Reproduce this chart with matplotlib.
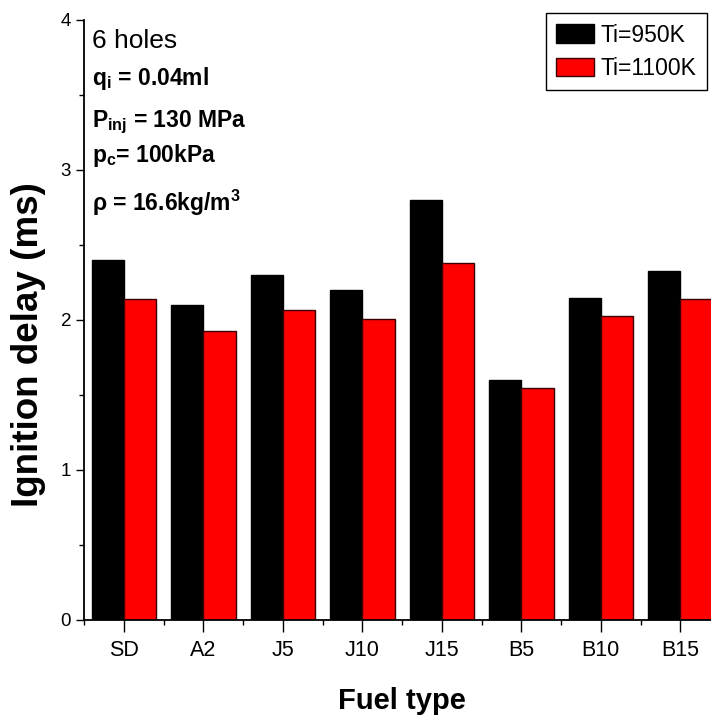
import matplotlib
matplotlib.use("Agg")
import matplotlib.pyplot as plt
import numpy as np

plt.rcParams['font.family'] = ['Liberation Sans', 'DejaVu Sans']
plt.rcParams['mathtext.fontset'] = 'custom'
plt.rcParams['mathtext.rm'] = 'Liberation Sans'
plt.rcParams['mathtext.bf'] = 'Liberation Sans:bold'

# Data
fuels = ['SD', 'A2', 'J5', 'J10', 'J15', 'B5', 'B10', 'B15']
delay_950 = [2.40, 2.10, 2.30, 2.20, 2.80, 1.60, 2.15, 2.33]
delay_1100 = [2.14, 1.93, 2.07, 2.01, 2.38, 1.55, 2.03, 2.14]

x = np.arange(1, len(fuels) + 1)
w = 0.405

fig = plt.figure(figsize=(7.11, 7.18), dpi=100)
# axes runs a bit past the right edge, like the cropped original
ax = fig.add_axes([84.3 / 711, 98 / 718, (720 - 84.3) / 711, 600 / 718])

ax.bar(x - w / 2, delay_950, w, color='black', edgecolor='black', linewidth=1, label='Ti=950K')
ax.bar(x + w / 2, delay_1100, w, color='#ff0000', edgecolor='#3a0000', linewidth=1, label='Ti=1100K')

ax.set_xlim(0.5, 8.5)
ax.set_ylim(0, 4)
ax.set_xticks(x)
ax.set_xticklabels(fuels)
ax.set_xticks(np.arange(0.5, 9, 1), minor=True)
ax.set_yticks([0, 1, 2, 3, 4])
ax.set_yticks(np.arange(0.5, 4, 1), minor=True)

ax.spines['top'].set_visible(False)
ax.spines['right'].set_visible(False)
ax.spines['left'].set_linewidth(1.3)
ax.spines['bottom'].set_linewidth(1.3)
ax.tick_params(axis='x', which='major', direction='out', length=8.5, width=1, labelsize=15.5, pad=6)
ax.tick_params(axis='y', which='major', direction='out', length=5.5, width=1, labelsize=13.5, pad=4)
ax.tick_params(which='minor', direction='out', length=3.6, width=1)

fig.text(29 / 711, 1 - 345 / 718, 'Ignition delay (ms)', rotation=90, fontsize=26.5,
         fontweight='bold', ha='center', va='center')
fig.text(402 / 711, 1 - 709 / 718, 'Fuel type', fontsize=21, fontweight='bold',
         ha='center', va='baseline')

# conditions block
tx = 92 / 711
fig.text(tx, 1 - 48 / 718, '6 holes', fontsize=19, va='baseline')
fig.text(tx, 1 - 85 / 718, r'q$_\mathbf{i}$ = 0.04ml', fontsize=16.5, fontweight='bold', va='baseline')
fig.text(tx, 1 - 127 / 718, r'P$_\mathbf{inj}$ = 130 MPa', fontsize=16.5, fontweight='bold', va='baseline')
fig.text(tx, 1 - 162 / 718, r'p$_\mathbf{c}$= 100kPa', fontsize=16.5, fontweight='bold', va='baseline')
fig.text(tx, 1 - 211 / 718, r'ρ = 16.6kg/m$^\mathbf{3}$', fontsize=16.5, fontweight='bold', va='baseline')

leg = ax.legend(loc='upper left', bbox_to_anchor=(546 / 711, 1 - 13.3 / 718),
                bbox_transform=fig.transFigure, borderaxespad=0, fontsize=16.5,
                frameon=True, fancybox=False, framealpha=1, edgecolor='black',
                handlelength=1.63, handleheight=0.87, handletextpad=0.3,
                labelspacing=0.45, borderpad=0.45)
leg.get_frame().set_linewidth(1)

fig.savefig('out.png', dpi=100)
